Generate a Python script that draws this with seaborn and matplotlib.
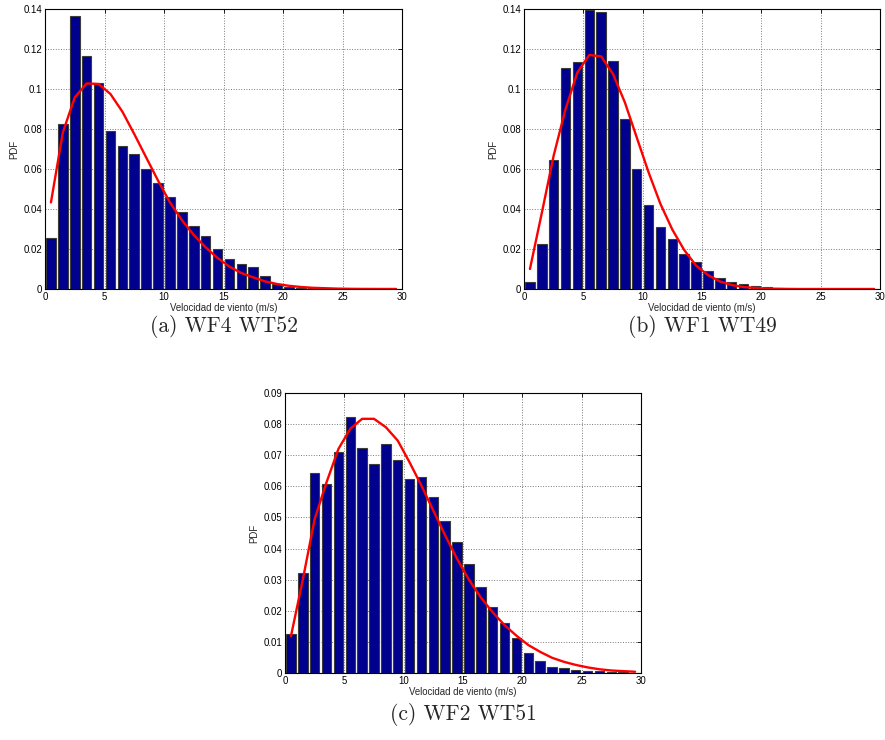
import numpy as np
import pandas as pd
import matplotlib
matplotlib.use("Agg")
import matplotlib.pyplot as plt
from matplotlib.ticker import FuncFormatter, MultipleLocator
import seaborn as sns

# Wind-speed bins (m/s), bin centres
speed = [0.5 + i for i in range(30)]

# Empirical PDF per bin
pdf_wf4_wt52 = [0.0254, 0.0823, 0.1363, 0.1165, 0.1030, 0.0788, 0.0716, 0.0674, 0.0599, 0.0531,
                0.0462, 0.0387, 0.0314, 0.0264, 0.0199, 0.0152, 0.0125, 0.0108, 0.0065, 0.0025,
                0.0010, 0.0006, 0.0003, 0.0002, 0.0001, 0.0001, 0.0, 0.0, 0.0, 0.0]
pdf_wf1_wt49 = [0.0033, 0.0224, 0.0644, 0.1103, 0.1133, 0.1395, 0.1383, 0.1141, 0.0851, 0.0601,
                0.0419, 0.0310, 0.0249, 0.0177, 0.0133, 0.0090, 0.0057, 0.0037, 0.0023, 0.0015,
                0.0010, 0.0006, 0.0005, 0.0001, 0.0, 0.0, 0.0, 0.0, 0.0, 0.0]
pdf_wf2_wt51 = [0.0125, 0.0320, 0.0643, 0.0608, 0.0709, 0.0823, 0.0722, 0.0671, 0.0736, 0.0684,
                0.0623, 0.0630, 0.0566, 0.0490, 0.0421, 0.0350, 0.0276, 0.0212, 0.0160, 0.0111,
                0.0063, 0.0039, 0.0019, 0.0016, 0.0011, 0.0008, 0.0005, 0.0003, 0.0002, 0.0001]

# Fitted distribution evaluated at the bin centres
fit_wf4_wt52 = [0.0433, 0.0783, 0.0958, 0.1028, 0.1025, 0.0975, 0.0887, 0.0775, 0.0658, 0.0542,
                0.0433, 0.0345, 0.0270, 0.0208, 0.0155, 0.0112, 0.0080, 0.0058, 0.0038, 0.0025,
                0.0016, 0.0010, 0.0006, 0.0004, 0.0002, 0.0001, 0.00005, 0.00003, 0.00002, 0.00001]
fit_wf1_wt49 = [0.0100, 0.0380, 0.0667, 0.0900, 0.1083, 0.1170, 0.1163, 0.1075, 0.0933, 0.0758,
                0.0583, 0.0425, 0.0297, 0.0195, 0.0117, 0.0070, 0.0038, 0.0020, 0.0010, 0.0005,
                0.0002, 0.0001, 0.0, 0.0, 0.0, 0.0, 0.0, 0.0, 0.0, 0.0]
fit_wf2_wt51 = [0.0118, 0.0300, 0.0495, 0.0613, 0.0720, 0.0785, 0.0817, 0.0817, 0.0790, 0.0747,
                0.0677, 0.0602, 0.0522, 0.0442, 0.0367, 0.0300, 0.0243, 0.0195, 0.0154, 0.0120,
                0.0090, 0.0068, 0.0049, 0.0036, 0.0026, 0.0018, 0.0012, 0.0008, 0.0006, 0.0004]

captions = ["(a) WF4 WT52", "(b) WF1 WT49", "(c) WF2 WT51"]
xlabel = "Velocidad de viento (m/s)"
ylabel = "PDF"

sns.set_style("white")
plt.rcParams["font.family"] = ["Liberation Sans", "DejaVu Sans"]

W, H = 885, 740
fig = plt.figure(figsize=(W / 100, H / 100), dpi=100)


def px_axes(left, right, top, bottom):
    return fig.add_axes([left / W, 1 - bottom / H, (right - left) / W, (bottom - top) / H])


# axes, histogram, fit, y-limit, y-step, caption offset below the axes (px)
panels = [
    (px_axes(45, 402, 9, 289), pdf_wf4_wt52, fit_wf4_wt52, 0.14, 0.02, 37),
    (px_axes(524, 880, 9, 289), pdf_wf1_wt49, fit_wf1_wt49, 0.14, 0.02, 37),
    (px_axes(285, 641, 393, 673), pdf_wf2_wt51, fit_wf2_wt51, 0.09, 0.01, 41),
]

fmt = FuncFormatter(lambda v, _: f"{v:g}")
small = 6.9

for (ax, hist, fit, ymax, ystep, cap_off), cap in zip(panels, captions):
    df = pd.DataFrame({"v": speed, "pdf": hist, "fit": fit})
    ax.set_axisbelow(True)
    sns.barplot(data=df, x="v", y="pdf", native_scale=True, width=0.8,
                color="#00008f", saturation=1, edgecolor="#3c3c3c", linewidth=0.8, ax=ax)
    sns.lineplot(data=df, x="v", y="fit", color="#ff0000", linewidth=1.7, ax=ax)
    ax.set_xlim(0, 30)
    ax.set_ylim(0, ymax)
    ax.xaxis.set_major_locator(MultipleLocator(5))
    ax.yaxis.set_major_locator(MultipleLocator(ystep))
    ax.xaxis.set_major_formatter(fmt)
    ax.yaxis.set_major_formatter(fmt)
    ax.grid(True, linestyle=":", color="#7a7a7a", linewidth=0.7)
    ax.tick_params(direction="in", length=3, width=0.6, labelsize=small,
                   top=True, right=True, pad=2, colors="black")
    for s in ax.spines.values():
        s.set_visible(True)
        s.set_color("black")
        s.set_linewidth(0.8)
    ax.set_xlabel(xlabel, fontsize=small, labelpad=1)
    ax.set_ylabel(ylabel, fontsize=small, labelpad=3)
    pos = ax.get_position()
    cx = (pos.x0 + pos.x1) / 2
    fig.text(cx, pos.y0 - cap_off / H, cap, ha="center", va="center",
             family="cmr10", fontsize=15.5)

fig.savefig("out.png", dpi=100, facecolor="white")
